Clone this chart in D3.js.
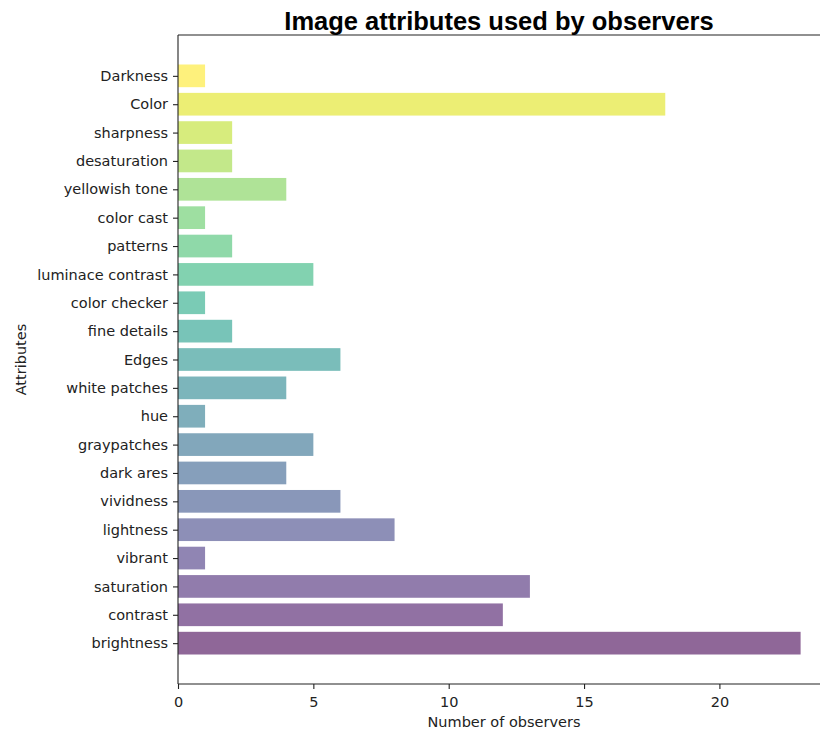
<!DOCTYPE html>
<html>
<head>
<meta charset="utf-8">
<script src="https://cdn.jsdelivr.net/npm/d3@7"></script>
<style>
  html, body { margin: 0; padding: 0; background: #fff; }
  svg { display: block; }
</style>
</head>
<body>
<svg id="chart" width="820" height="731"></svg>
<script>
// Attributes listed bottom-to-top, with the number of observers naming each
const attributes = [
  "brightness", "contrast", "saturation", "vibrant", "lightness", "vividness",
  "dark ares", "graypatches", "hue", "white patches", "Edges", "fine details",
  "color checker", "luminace contrast", "patterns", "color cast",
  "yellowish tone", "desaturation", "sharpness", "Color", "Darkness"
];
const observers = [23, 12, 13, 1, 8, 6, 4, 5, 1, 4, 6, 2, 1, 5, 2, 1, 4, 2, 2, 18, 1];
const xTicks = [0, 5, 10, 15, 20];

(function () {
  const svg = d3.select("#chart");
  const plotLeft = 178, plotTop = 35, plotBottom = 684;
  const xDomainMax = d3.max(observers) * 1.05;
  const unit = 27.07;
  const plotRight = plotLeft + xDomainMax * unit;

  const n = attributes.length;
  const barH = 0.8;
  const yPad = (n - 1 + barH) * 0.05;

  const x = d3.scaleLinear().domain([0, xDomainMax]).range([plotLeft, plotRight]);
  const y = d3.scaleLinear()
    .domain([-barH / 2 - yPad, n - 1 + barH / 2 + yPad])
    .range([plotBottom, plotTop]);

  const color = i => d3.interpolateViridis(i / (n - 1));

  // Bars
  svg.append("g").selectAll("rect")
    .data(observers)
    .join("rect")
    .attr("x", x(0))
    .attr("y", (d, i) => y(i + barH / 2))
    .attr("width", d => x(d) - x(0))
    .attr("height", y(0) - y(barH))
    .attr("fill", (d, i) => color(i))
    .attr("fill-opacity", 0.6);

  // Axes
  const font = "DejaVu Sans, sans-serif";
  const fontSize = 14.5;
  const xAxis = svg.append("g")
    .attr("transform", `translate(0,${plotBottom})`)
    .call(d3.axisBottom(x).tickValues(xTicks).tickSize(5).tickPadding(8).tickSizeOuter(0));
  const yAxis = svg.append("g")
    .attr("transform", `translate(${plotLeft},0)`)
    .call(d3.axisLeft(y).tickValues(d3.range(n)).tickFormat(i => attributes[i])
      .tickSize(5).tickPadding(5).tickSizeOuter(0));

  [xAxis, yAxis].forEach(g => {
    g.selectAll("text").attr("font-family", font).attr("font-size", fontSize).attr("fill", "#222");
    g.selectAll("line").attr("stroke", "#222").attr("stroke-width", 1.1);
    g.select(".domain").remove();
  });

  // Frame (the right edge falls off-canvas)
  const frame = svg.append("g").attr("stroke", "#222").attr("stroke-width", 1.1).attr("fill", "none");
  frame.append("line").attr("x1", plotLeft).attr("x2", plotLeft).attr("y1", plotTop).attr("y2", plotBottom);
  frame.append("line").attr("x1", plotLeft).attr("x2", plotRight).attr("y1", plotBottom).attr("y2", plotBottom);
  frame.append("line").attr("x1", plotLeft).attr("x2", plotRight).attr("y1", plotTop).attr("y2", plotTop);
  frame.append("line").attr("x1", plotRight).attr("x2", plotRight).attr("y1", plotTop).attr("y2", plotBottom);

  // Labels
  svg.append("text")
    .attr("x", 499).attr("y", 30)
    .attr("text-anchor", "middle")
    .attr("font-family", "Liberation Sans, Arial, sans-serif")
    .attr("font-weight", "bold").attr("font-size", 25.5)
    .attr("fill", "#000")
    .text("Image attributes used by observers");

  svg.append("text")
    .attr("x", 504).attr("y", 727)
    .attr("text-anchor", "middle")
    .attr("font-family", font).attr("font-size", fontSize).attr("fill", "#222")
    .text("Number of observers");

  svg.append("text")
    .attr("transform", `translate(26,${(plotTop + plotBottom) / 2}) rotate(-90)`)
    .attr("text-anchor", "middle")
    .attr("font-family", font).attr("font-size", fontSize).attr("fill", "#222")
    .text("Attributes");
})();
</script>
</body>
</html>
